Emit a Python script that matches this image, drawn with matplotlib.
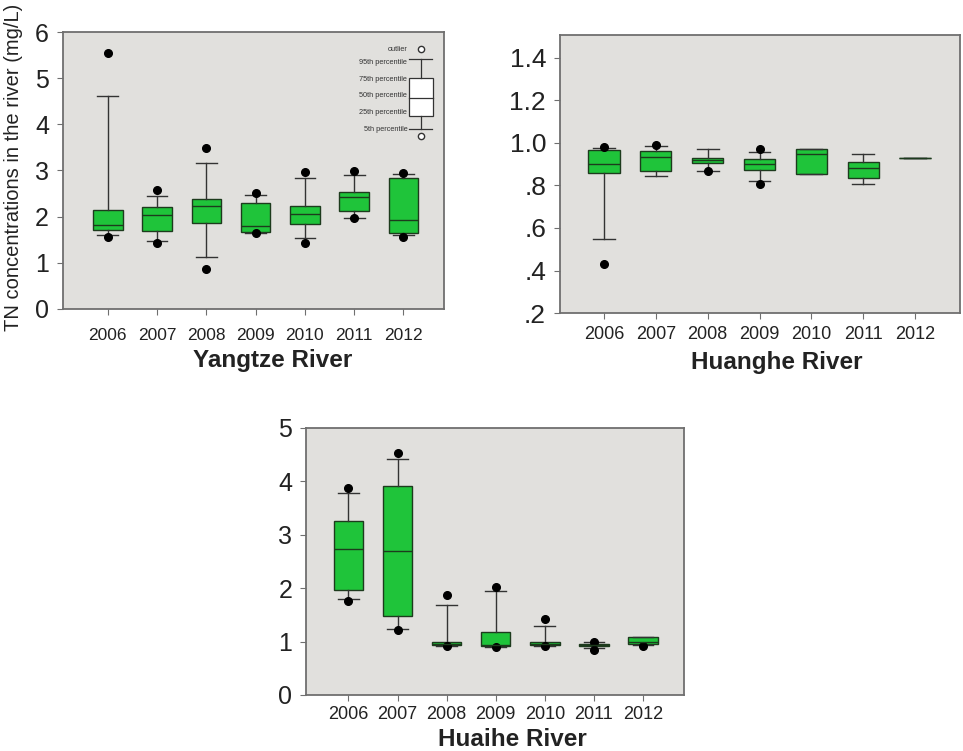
import numpy as np
import matplotlib.pyplot as plt
from matplotlib.patches import Rectangle

plt.rcParams['font.family'] = ['Liberation Sans', 'DejaVu Sans']

years = ['2006', '2007', '2008', '2009', '2010', '2011', '2012']

# Yangtze River: 5th, 25th, 50th, 75th, 95th percentiles and outliers (mg/L)
yangtze_p05 = [1.60, 1.46, 1.13, 1.65, 1.54, 1.96, 1.60]
yangtze_p25 = [1.71, 1.68, 1.86, 1.67, 1.83, 2.11, 1.64]
yangtze_p50 = [1.81, 2.03, 2.22, 1.80, 2.05, 2.43, 1.92]
yangtze_p75 = [2.14, 2.20, 2.38, 2.29, 2.23, 2.54, 2.83]
yangtze_p95 = [4.62, 2.45, 3.17, 2.46, 2.83, 2.90, 2.93]
yangtze_out = [[5.55, 1.56], [2.58, 1.43], [3.49, 0.87], [2.51, 1.65],
               [2.96, 1.43], [2.99, 1.96], [2.94, 1.55]]

# Huanghe River
huanghe_p05 = [0.55, 0.845, 0.87, 0.822, 0.853, 0.808, 0.93]
huanghe_p25 = [0.86, 0.87, 0.906, 0.872, 0.853, 0.833, 0.93]
huanghe_p50 = [0.90, 0.934, 0.92, 0.90, 0.947, 0.883, 0.93]
huanghe_p75 = [0.966, 0.96, 0.93, 0.922, 0.973, 0.911, 0.93]
huanghe_p95 = [0.975, 0.986, 0.97, 0.958, 0.973, 0.947, 0.93]
huanghe_out = [[0.98, 0.43], [0.99], [0.87], [0.97, 0.808], [], [], []]

# Huaihe River
huaihe_p05 = [1.79, 1.24, 0.92, 0.89, 0.91, 0.88, 0.93]
huaihe_p25 = [1.97, 1.48, 0.93, 0.91, 0.93, 0.91, 0.95]
huaihe_p50 = [2.73, 2.69, 0.96, 0.94, 0.96, 0.94, 0.99]
huaihe_p75 = [3.26, 3.91, 0.99, 1.18, 0.99, 0.96, 1.08]
huaihe_p95 = [3.79, 4.41, 1.68, 1.94, 1.29, 0.99, 1.09]
huaihe_out = [[3.87, 1.76], [4.53, 1.21], [1.88, 0.92], [2.03, 0.89],
              [1.43, 0.91], [1.0, 0.84], [0.92]]

legend_labels = ['outlier', '95th percentile', '75th percentile',
                 '50th percentile', '25th percentile', '5th percentile']

GREEN = '#1fc43a'
PANEL = '#e1e0dd'
FRAME = '#6f6f6f'


def make_stats(p05, p25, p50, p75, p95, out):
    stats = []
    for i in range(len(p50)):
        stats.append(dict(whislo=p05[i], q1=p25[i], med=p50[i], q3=p75[i],
                          whishi=p95[i], fliers=out[i]))
    return stats


def draw_panel(ax, stats, xlim, ylim, yticks, yticklabels, ysize, xsize, xpad):
    ax.set_facecolor(PANEL)
    pos = np.arange(1, len(stats) + 1)
    ax.bxp(stats, positions=pos, widths=0.6, capwidths=0.42,
           patch_artist=True, showfliers=True,
           boxprops=dict(facecolor=GREEN, edgecolor='#1d3b1d', linewidth=1.0),
           medianprops=dict(color='#1d3b1d', linewidth=1.0),
           whiskerprops=dict(color='#333333', linewidth=1.0),
           capprops=dict(color='#333333', linewidth=1.0),
           flierprops=dict(marker='o', markerfacecolor='black',
                           markeredgecolor='black', markersize=5.5))
    ax.set_xlim(*xlim)
    ax.set_ylim(*ylim)
    ax.set_yticks(yticks)
    ax.set_yticklabels(yticklabels)
    ax.set_xticks(pos)
    ax.set_xticklabels(years)
    for s in ax.spines.values():
        s.set_color(FRAME)
        s.set_linewidth(1.3)
    ax.tick_params(axis='y', labelsize=ysize, length=4, color=FRAME,
                   pad=6, labelcolor='#222222')
    ax.tick_params(axis='x', labelsize=xsize, length=4, color=FRAME,
                   pad=xpad, labelcolor='#222222')


fig = plt.figure(figsize=(9.63, 7.51), dpi=100)

ax1 = fig.add_axes([0.0654, 0.589, 0.396, 0.368])
draw_panel(ax1, make_stats(yangtze_p05, yangtze_p25, yangtze_p50,
                           yangtze_p75, yangtze_p95, yangtze_out),
           (0.09, 7.83), (0, 6), range(0, 7), [str(v) for v in range(0, 7)],
           18, 12.5, 10)

ax2 = fig.add_axes([0.5815, 0.583, 0.4155, 0.370])
draw_panel(ax2, make_stats(huanghe_p05, huanghe_p25, huanghe_p50,
                           huanghe_p75, huanghe_p95, huanghe_out),
           (0.15, 7.87), (0.2, 1.505), [0.2, 0.4, 0.6, 0.8, 1.0, 1.2, 1.4],
           ['.2', '.4', '.6', '.8', '1.0', '1.2', '1.4'], 19, 13, 5)

ax3 = fig.add_axes([0.318, 0.0746, 0.3925, 0.3555])
draw_panel(ax3, make_stats(huaihe_p05, huaihe_p25, huaihe_p50,
                           huaihe_p75, huaihe_p95, huaihe_out),
           (0.14, 7.84), (0, 5), range(0, 6), [str(v) for v in range(0, 6)],
           18, 13, 4)

# key explaining the box symbols, drawn in axes fractions of the first panel
t = ax1.transAxes
kx0, kx1 = 0.908, 0.969
kc = (kx0 + kx1) / 2
ax1.add_patch(Rectangle((kx0, 0.697), kx1 - kx0, 0.137, transform=t,
                        facecolor='white', edgecolor='#333333', lw=0.9))
ax1.plot([kx0, kx1], [0.763, 0.763], transform=t, color='#333333', lw=0.9)
ax1.plot([kc, kc], [0.834, 0.903], transform=t, color='#333333', lw=0.9)
ax1.plot([kc, kc], [0.697, 0.650], transform=t, color='#333333', lw=0.9)
ax1.plot([kc - 0.03, kc + 0.03], [0.903, 0.903], transform=t,
         color='#333333', lw=0.9)
ax1.plot([kc - 0.03, kc + 0.03], [0.650, 0.650], transform=t,
         color='#333333', lw=0.9)
ax1.plot([kc, kc], [0.939, 0.625], transform=t, ls='none', marker='o',
         markerfacecolor='white', markeredgecolor='#333333', markersize=4.5)
for label, ly in zip(legend_labels, [0.939, 0.892, 0.830, 0.773, 0.711, 0.650]):
    ax1.text(0.903, ly, label, transform=t, ha='right', va='center',
             fontsize=5.3, color='#333333')

fig.text(0.0145, 0.777, 'TN concentrations in the river (mg/L)',
         rotation=90, ha='center', va='center', fontsize=14.5, color='#222222')

fig.text(0.2835, 0.511, 'Yangtze River', ha='center', va='baseline',
         fontsize=17.5, fontweight='bold', color='#222222')
fig.text(0.807, 0.509, 'Huanghe River', ha='center', va='baseline',
         fontsize=17.5, fontweight='bold', color='#222222')
fig.text(0.532, 0.007, 'Huaihe River', ha='center', va='baseline',
         fontsize=17.5, fontweight='bold', color='#222222')

fig.savefig('out.png', dpi=100, facecolor='white')
